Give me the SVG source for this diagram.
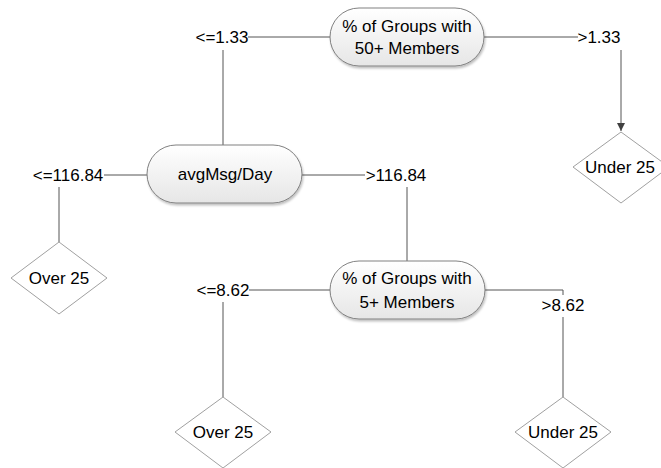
<svg xmlns="http://www.w3.org/2000/svg" width="661" height="468" viewBox="0 0 661 468">
<defs>
<linearGradient id="g" x1="0" y1="0" x2="0" y2="1">
<stop offset="0" stop-color="#ffffff"/>
<stop offset="1" stop-color="#e6e6e6"/>
</linearGradient>
<filter id="sh" x="-10%" y="-10%" width="130%" height="140%">
<feDropShadow dx="1" dy="2" stdDeviation="1.2" flood-color="#000" flood-opacity="0.25"/>
</filter>
<marker id="arr" viewBox="0 0 10 10" refX="10" refY="5" markerWidth="8" markerHeight="8" markerUnits="userSpaceOnUse" orient="auto">
<path d="M0,0 L10,5 L0,10 z" fill="#404040"/>
</marker>
</defs>
<style>
text{font-family:"Liberation Sans",Arial,sans-serif;font-size:17px;fill:#000;text-anchor:middle}
.n{fill:url(#g);stroke:#808080;stroke-width:1;filter:url(#sh)}
.d{fill:#fff;stroke:#a0a0a0;stroke-width:1}
.c{fill:none;stroke:#555;stroke-width:1}
</style>
<rect width="661" height="468" fill="#fff"/>
<g id="connectors">
<line class="c" x1="248" y1="37" x2="330" y2="37"/>
<line class="c" x1="484" y1="37" x2="578" y2="37"/>
<line class="c" x1="223" y1="50" x2="223" y2="145"/>
<line class="c" x1="621" y1="50" x2="621" y2="131" marker-end="url(#arr)"/>
<line class="c" x1="104" y1="175" x2="147" y2="175"/>
<line class="c" x1="302" y1="175" x2="365" y2="175"/>
<line class="c" x1="59" y1="187" x2="59" y2="242"/>
<line class="c" x1="407" y1="187" x2="407" y2="261"/>
<line class="c" x1="249" y1="290" x2="330" y2="290"/>
<polyline class="c" points="485,290 563,290 563,295"/>
<line class="c" x1="223" y1="302" x2="223" y2="397"/>
<line class="c" x1="563" y1="317" x2="563" y2="397"/>
<text x="222" y="43">&lt;=1.33</text>
<text x="599" y="43">&gt;1.33</text>
<text x="68" y="181">&lt;=116.84</text>
<text x="396" y="181">&gt;116.84</text>
<text x="223" y="296">&lt;=8.62</text>
<text x="563" y="311">&gt;8.62</text>
</g>
<g id="node-groups50">
<rect class="n" x="330" y="8" width="154" height="58" rx="29" ry="29"/>
<text x="407" y="32">% of Groups with</text>
<text x="407" y="54">50+ Members</text>
</g>
<g id="node-avgmsg">
<rect class="n" x="147" y="145" width="155" height="58" rx="29" ry="29"/>
<text x="225" y="180">avgMsg/Day</text>
</g>
<g id="node-groups5">
<rect class="n" x="330" y="261" width="155" height="58" rx="29" ry="29"/>
<text x="407" y="284">% of Groups with</text>
<text x="407" y="308">5+ Members</text>
</g>
<g id="leaf-under25-top">
<polygon class="d" points="621,132 669,167 621,203 573,167"/>
<text x="620" y="173">Under 25</text>
</g>
<g id="leaf-over25-left">
<polygon class="d" points="59,242 107,278 59,314 11,278"/>
<text x="59" y="284">Over 25</text>
</g>
<g id="leaf-over25-bottom">
<polygon class="d" points="223,397 271,432 223,468 175,432"/>
<text x="223" y="438">Over 25</text>
</g>
<g id="leaf-under25-bottom">
<polygon class="d" points="563,397 611,432 563,468 515,432"/>
<text x="563" y="438">Under 25</text>
</g>
</svg>
